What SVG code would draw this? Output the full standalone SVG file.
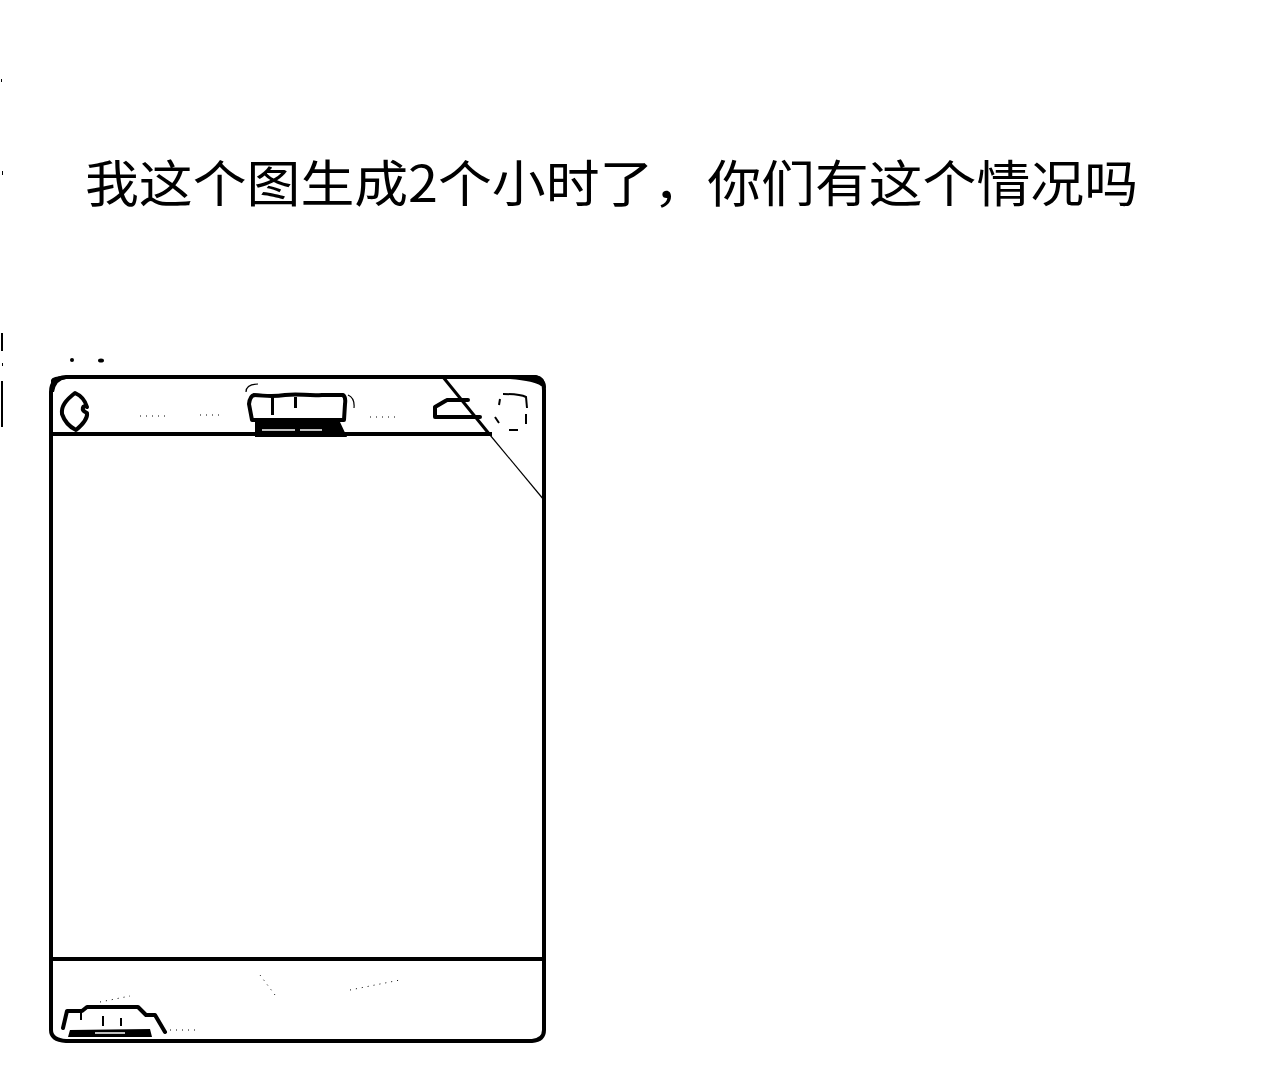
<svg xmlns="http://www.w3.org/2000/svg" width="1280" height="1076" viewBox="0 0 1280 1076">
<style>
.t{font-family:"Noto Sans CJK SC","Liberation Sans",sans-serif;font-size:50px;font-weight:400;fill:#000}
.b{fill:none;stroke:#000;stroke-width:4;stroke-linejoin:round}
.m{fill:none;stroke:#000;stroke-width:4;stroke-linejoin:round;stroke-linecap:round}
.s{fill:none;stroke:#000;stroke-width:1.200}
.d{fill:none;stroke:#000;stroke-width:1;stroke-dasharray:1 5}
.w{fill:none;stroke:#fff;stroke-width:1.500}
</style>
<rect width="1280" height="1076" fill="#fff"/>
<text class="t" x="85" y="202" textLength="1053" lengthAdjust="spacingAndGlyphs">我这个图生成2个小时了，你们有这个情况吗</text>
<g id="margin-marks">
<rect x="1" y="79" width="1" height="3"/>
<rect x="2" y="171" width="1" height="4"/>
<rect x="1" y="333" width="2" height="18"/>
<rect x="2" y="363" width="1" height="3"/>
<rect x="1" y="381" width="2" height="46"/>
<circle cx="72" cy="360" r="2"/>
<ellipse cx="101" cy="360.500" rx="3" ry="2"/>
</g>
<g id="phone">
<path class="b" d="M51 1030V392Q51 378 66 377H534Q544 378 544 390V1030Q544 1040 532 1041H66Q51 1040 51 1030Z"/>
<path d="M51 380Q52 376 66 376V379Q56 380 54 392H51ZM510 375H536Q546 377 546 388L541 386Q535 381 510 379Z"/>
<path d="M51 434H492M51 959H544" fill="none" stroke="#000" stroke-width="4"/>
<path d="M443 377L490 435" stroke="#000" stroke-width="3" fill="none"/>
<path class="s" d="M490 435L544 500"/>
</g>
<g id="top-icons">
<path class="m" d="M75 393C66 400 61 406 62 414C65 423 72 428 76 430C82 425 88 419 87 413C80 410 83 404 87 407C85 400 82 396 75 393Z"/>
<path class="m" d="M254 395C270 396 272 397 285 395C300 393 305 396 322 395H343Q346 397 345 404L344 420H252L249 404Q250 396 254 395Z"/>
<path d="M255 422H340L347 437H255Z"/>
<path class="w" d="M262 430H295M300 430H322"/>
<path d="M271 397h3v18h-3zM294 397h3v11h-3z"/>
<path class="m" d="M447 400H468M447 400L435 407V417H480"/>
<path d="M503 394C511 394 520 394 526 397L527 408M499 405L500 399M495 417L499 423M526 414V424M509 430H518" fill="none" stroke="#000" stroke-width="2"/>
<path class="d" d="M140 416H170M200 415H222M370 417H400"/>
<path class="s" d="M246 392Q246 384 258 384M348 395Q355 398 354 408"/>
</g>
<g id="bottom-icons">
<path class="m" d="M63 1028L67 1011H82L87 1007H138L146 1015H155L165 1032"/>
<path d="M70 1030L150 1029L152 1037H68Z"/>
<path class="w" d="M95 1033H125"/>
<path d="M80 1012h2v8h-2zM102 1016h2v10h-2zM120 1018h2v8h-2z"/>
<path class="d" d="M100 1002L130 996M260 975L275 995M350 990L400 980M170 1030H200"/>
</g>
</svg>
